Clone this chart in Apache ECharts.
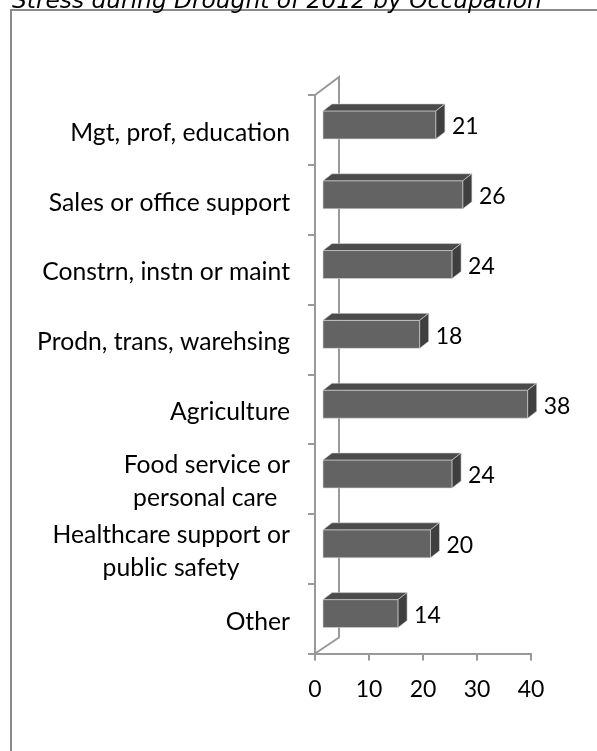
<!DOCTYPE html>
<html>
<head>
<meta charset="utf-8">
<style>html,body{margin:0;padding:0;background:#fff}#c{width:597px;height:751px}</style>
<script src="https://cdn.jsdelivr.net/npm/echarts@6/dist/echarts.min.js"></script>
</head>
<body>
<div id="c"></div>
<script>
const titleText = 'Stress during Drought of 2012 by Occupation';
const categories = ['Mgt, prof, education','Sales or office support','Constrn, instn or maint','Prodn, trans, warehsing','Agriculture','Food service or\npersonal care  ','Healthcare support or\npublic safety        ','Other'];
const values = [21,26,24,18,38,24,20,14];
const axisTicks = [0,40,10];

const chart = echarts.init(document.getElementById('c'), null, {renderer:'canvas'});
const LABEL_FONT = 'Lato, "Open Sans", sans-serif';
const AX = '#999999';
const DX = 8, DEPTH_X = 9, DEPTH_Y = 7, UP = 19, DOWN = 9;

function renderBar(params, api){
  const idx = api.value(0), val = api.value(1);
  const p0 = api.coord([0, idx]);
  const p1 = api.coord([val, idx]);
  const l = p0[0]+DX, r = p1[0]+DX-0.5, t = p0[1]-UP, b = p0[1]+DOWN;
  return {type:'group', children:[
    {type:'rect', shape:{x:l,y:t,width:r-l,height:b-t}, style:{fill:'#636363', stroke:'#d8d8d8', lineWidth:0.6}},
    {type:'polygon', shape:{points:[[l,t],[l+DEPTH_X,t-DEPTH_Y],[r+DEPTH_X,t-DEPTH_Y],[r,t]]}, style:{fill:'#4b4b4b', stroke:'#d8d8d8', lineWidth:0.6}},
    {type:'polygon', shape:{points:[[r,t],[r+DEPTH_X,t-DEPTH_Y],[r+DEPTH_X,b-DEPTH_Y],[r,b]]}, style:{fill:'#3f3f3f', stroke:'#d8d8d8', lineWidth:0.6}},
    {type:'text', style:{text:String(val), x:r+DEPTH_X+7, y:p0[1]-3, textAlign:'left', textVerticalAlign:'middle', font:'23px '+LABEL_FONT, fill:'#000'}}
  ]};
}
function renderWall(params, api){
  const cs = params.coordSys;
  const x0 = cs.x, yT = cs.y, yB = cs.y+cs.height, dx = 24;
  const ln = {stroke:AX, lineWidth:2, fill:'none'};
  return {type:'group', children:[
    {type:'polyline', shape:{points:[[x0,yT],[x0+dx,yT-18],[x0+dx,yB-16],[x0,yB]]}, style:ln}
  ]};
}

chart.setOption({
  animation:false,
  backgroundColor:'#fff',
  title:{text:titleText, left:7, top:-15, textStyle:{fontFamily:'"DejaVu Sans"', fontStyle:'italic', fontWeight:'normal', fontSize:23.3, color:'#000'}},
  graphic:[{type:'polyline', silent:true, z:0, shape:{points:[[11,751],[11,10],[597,10]]}, style:{stroke:'#8a8a8a', lineWidth:2, fill:'none'}}],
  grid:{left:315, right:66, top:95, bottom:97.5, containLabel:false},
  xAxis:{type:'value', min:axisTicks[0], max:axisTicks[1], interval:axisTicks[2],
    axisLine:{show:true, lineStyle:{color:AX,width:2}},
    axisTick:{show:true, length:7, lineStyle:{color:AX,width:2}},
    splitLine:{show:false},
    axisLabel:{margin:25, fontFamily:LABEL_FONT, fontSize:23, color:'#000'}},
  yAxis:{type:'category', inverse:true, data:categories, boundaryGap:true,
    axisLine:{show:true, lineStyle:{color:AX,width:2}},
    axisTick:{show:true, length:7, alignWithLabel:false, lineStyle:{color:AX,width:2}},
    axisLabel:{margin:25, fontFamily:LABEL_FONT, fontSize:24.7, lineHeight:33, padding:[6,0,0,0], color:'#000', align:'right', interval:0,
      formatter:v=>v.split('\n').map(s=>`{a|${s}}`).join('\n'),
      rich:{a:{fontFamily:LABEL_FONT, fontSize:24.7, lineHeight:33, color:'#000'}}}},
  series:[
    {type:'custom', coordinateSystem:'cartesian2d', renderItem:renderWall, data:[[0,0]], silent:true, z:1},
    {type:'custom', coordinateSystem:'cartesian2d', renderItem:renderBar, encode:{x:1,y:0}, data:values.map((v,i)=>[i,v]), z:3, clip:false}
  ]
});
</script>
</body>
</html>
